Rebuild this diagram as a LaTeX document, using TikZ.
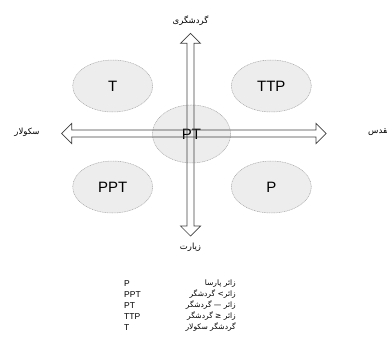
\documentclass[tikz,border=0pt]{standalone}
\usepackage{fontspec}
\setmainfont{Liberation Sans}
\newfontfamily\farsi[Script=Arabic]{DejaVu Sans}
\TeXXeTstate=1
\usetikzlibrary{shapes.geometric, calc}
\newcommand{\fa}[1]{{\farsi\beginR #1\endR}}
\tikzset{
  zone/.style={ellipse, draw=gray!70, dash pattern=on 1pt off 0.7pt, line width=0.5pt,
    fill=gray!14, minimum width=80pt, minimum height=52pt, inner sep=0pt,
    font=\fontsize{15}{15}\selectfont},
  axisarrow/.style={draw=black!75, line width=0.7pt, line join=miter},
  axislabel/.style={font=\fontsize{8.5}{9}\selectfont, inner sep=0pt},
  legend/.style={font=\fontsize{8.5}{10}\selectfont, inner sep=0pt, anchor=west},
  legendfa/.style={font=\fontsize{7.5}{9}\selectfont, inner sep=0pt, anchor=east},
}

\begin{document}
\begin{tikzpicture}[x=1pt,y=-1pt]
\clip (0,0) rectangle (387,352);
% quadrants
\node[zone] (T) at (112.7,86) {T};
\node[zone] (TTP) at (271.3,86) {TTP};
\node[zone] (PPT) at (112.7,187) {PPT};
\node[zone] (P) at (271.3,187) {P};
\node[zone, minimum width=78pt, minimum height=58pt] (PT) at (191.5,134) {PT};

% axes
\coordinate (top) at (190.5,33.3);
\coordinate (bot) at (190.5,236);
\coordinate (lft) at (61.7,133.5);
\coordinate (rgt) at (326,133.5);
\draw[axisarrow] (top) -- ++(10,10) -- ++(-6.5,0) -- ($(bot)+(3.5,-10)$) -- ++(6.5,0)
  -- (bot) -- ++(-10,-10) -- ++(6.5,0) -- ($(top)+(-3.5,10)$) -- ++(-6.5,0) -- cycle;
\draw[axisarrow] (lft) -- ++(10,-10) -- ++(0,6.5) -- ($(rgt)+(-10,-3.5)$) -- ++(0,-6.5)
  -- (rgt) -- ++(-10,10) -- ++(0,-6.5) -- ($(lft)+(10,3.5)$) -- ++(0,6.5) -- cycle;

\node[axislabel] (tour) at (190.5,21) {\fa{گردشگری}};
\node[axislabel] (pilg) at (190.5,247) {\fa{زیارت}};
\node[axislabel] (secu) at (27,132) {\fa{سکولار}};
\node[axislabel, anchor=west] (sacr) at (368,132) {\fa{مقدس}};

% legend
\node[legend] (l1) at (124,283.5) {P};
\node[legend] (l2) at (124,294.5) {PPT};
\node[legend] (l3) at (124,305.5) {PT};
\node[legend] (l4) at (124,316.5) {TTP};
\node[legend] (l5) at (124,327.5) {T};
\node[legendfa] (f1) at (236,283.5) {\fa{زائر پارسا}};
\node[legendfa] (f2) at (236,294.5) {\fa{زائر> گردشگر}};
\node[legendfa] (f3) at (236,305.5) {\fa{زائر — گردشگر}};
\node[legendfa] (f4) at (236,316.5) {\fa{زائر ≤ گردشگر}};
\node[legendfa] (f5) at (236,327.5) {\fa{گردشگر سکولار}};
\end{tikzpicture}
\end{document}
